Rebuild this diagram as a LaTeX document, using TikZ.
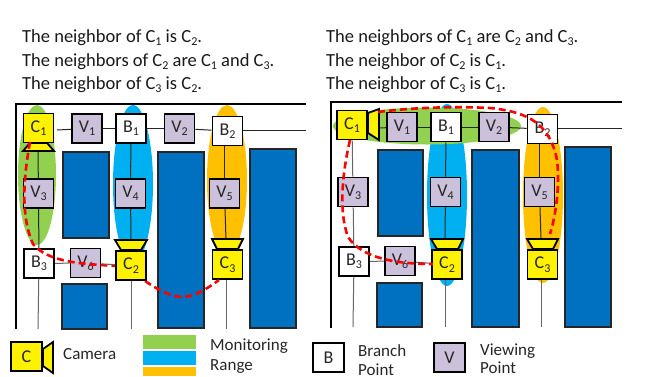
\documentclass[tikz,border=0pt]{standalone}
\usepackage{fontspec}
\setmainfont{Carlito}
\definecolor{rgreen}{HTML}{92D050}
\definecolor{rblue}{HTML}{00B0F0}
\definecolor{rorange}{HTML}{FFC000}
\definecolor{rdark}{HTML}{0070C0}
\definecolor{rview}{HTML}{CCC1DA}
\newcommand{\lowd}[1]{\raisebox{-0.4ex}{\fontsize{12}{12}\selectfont #1}}
\tikzset{
  boxbase/.style={draw=black,line width=1.9pt,minimum width=30pt,minimum height=29pt,inner sep=0pt,font=\fontsize{18}{18}\selectfont,text=black!85},
  cam/.style={boxbase,fill=yellow},
  view/.style={boxbase,fill=rview},
  branch/.style={boxbase,fill=white},
  block/.style={draw=black!85,line width=1.8pt,fill=rdark},
  road/.style={line width=1pt,draw=black!85},
  side/.style={line width=1pt,draw=black!60},
  frame/.style={line width=1.8pt,draw=black},
  lens/.style={draw=black,line width=1.8pt,fill=yellow},
  route/.style={draw=red,line width=2.6pt,dash pattern=on 7pt off 4pt},
  say/.style={anchor=base west,inner sep=0pt,font=\fontsize{18.5}{20}\selectfont,text=black!90},
  legend/.style={anchor=base west,inner sep=0pt,font=\fontsize{17}{20}\selectfont,text=black!85}
}
\begin{document}
\begin{tikzpicture}[x=1pt,y=-1pt]
\useasboundingbox (0,0) rectangle (646,376);
% ---- statements
\node[say] (t1) at (22,42) {The neighbor of C\lowd1 is C\lowd2.};
\node[say] (t2) at (22,66) {The neighbors of C\lowd2 are C\lowd1 and C\lowd3.};
\node[say] (t3) at (22,89) {The neighbor of C\lowd3 is C\lowd2.};
\node[say] (u1) at (326,42) {The neighbors of C\lowd1 are C\lowd2 and C\lowd3.};
\node[say] (u2) at (326,66) {The neighbor of C\lowd2 is C\lowd1.};
\node[say] (u3) at (326,89) {The neighbor of C\lowd3 is C\lowd1.};
% ---- left panel: ranges
\fill[rgreen] (37,175) ellipse [x radius=19,y radius=70];
\fill[rblue] (133,184) ellipse [x radius=20,y radius=79];
\fill[rorange] (227,180) ellipse [x radius=20,y radius=75];
% frame and blocks
\draw[frame] (16,329) -- (16,104) -- (306,104);
\draw[block] (63,152) rectangle (109,238);
\draw[block] (158,152) rectangle (204,328);
\draw[block] (250,149) rectangle (296,328);
\draw[block] (62,284) rectangle (107,329);
% nodes
\node[cam] (C1) at (38.5,128) {C\lowd1};
\node[view] (V1) at (87,128.5) {V\lowd1};
\node[branch] (B1) at (131,128.5) {B\lowd1};
\node[view] (V2) at (179.5,128.5) {V\lowd2};
\node[branch] (B2) at (227.5,131) {B\lowd2};
\node[view] (V3) at (38.5,193.5) {V\lowd3};
\node[view] (V4) at (130.5,193.5) {V\lowd4};
\node[view] (V5) at (224.5,193.5) {V\lowd5};
\node[branch] (B3) at (39,263.5) {B\lowd3};
\node[view] (V6) at (85.5,263) {V\lowd6};
\node[cam] (C3) at (227.5,264.5) {C\lowd3};
\coordinate (e1) at (57,130);
\coordinate (e2) at (306,130);
\coordinate (f1) at (38,329);
\coordinate (f2) at (131,329);
\coordinate (f3) at (226,329);
\coordinate (l1) at (38,151);
\draw[road] (e1) -- (V1);
\draw[road] (V1) -- (B1);
\draw[road] (B1) -- (V2);
\draw[road] (V2) -- (B2);
\draw[road] (B2.east |- e2) -- (e2);
\draw[road] (l1) -- (V3);
\draw[road] (V3) -- (B3);
\draw[side] (B3) -- (f1);
\draw[road] (B1) -- (V4);
\draw[road] (V5 |- B2.south) -- (V5);
\draw[side] (B3) -- (V6);
\draw[side] (f3 |- C3.south) -- (f3);
\draw[road] (V4) -- (131,240);
\draw[road] (V5) -- (226,240);
\draw[lens] (23,151) -- (30,143) -- (47,143) -- (54,151) -- cycle;
\draw[lens] (115,240) -- (147,240) -- (141,250) -- (121,250) -- cycle;
\draw[lens] (212,239) -- (243,239) -- (238,249) -- (217,249) -- cycle;
% route under C2
\draw[route] (30,142) .. controls (24,175) and (20,215) .. (33,244)
  .. controls (48,262) and (80,264) .. (118,266);
\draw[route] (145,281) .. controls (160,291) and (172,297) .. (184,297)
  .. controls (196,296) and (208,288) .. (219,280);
\node[cam] (C2) at (131,265.5) {C\lowd2};
\draw[side] (V6) -- (C2);
\draw[side] (C2) -- (f2);
% ---- right panel: ranges
\fill[rblue] (447,195) ellipse [x radius=20,y radius=91];
\fill[rorange] (543,195) ellipse [x radius=20,y radius=88];
\fill[rgreen] (427,126) ellipse [x radius=94,y radius=18.5];
\draw[frame] (331,328) -- (331,102) -- (622,102);
\draw[block] (378,150) rectangle (423,236);
\draw[block] (472,150) rectangle (519,327);
\draw[block] (565,147) rectangle (611,327);
\draw[block] (377,283) rectangle (422,327);
\node[cam] (D1) at (352,125) {C\lowd1};
\node[view] (W1) at (402,127) {V\lowd1};
\node[branch] (A1) at (446,127) {B\lowd1};
\node[view] (W2) at (494,127) {V\lowd2};
\node[branch] (A2) at (542.5,129) {B\lowd2};
\node[view] (W3) at (353,192) {V\lowd3};
\node[view] (W4) at (445.5,192) {V\lowd4};
\node[view] (W5) at (539.5,192) {V\lowd5};
\node[branch] (A3) at (354,261.5) {B\lowd3};
\node[view] (W6) at (400,261) {V\lowd6};
\node[cam] (D2) at (447,264.5) {C\lowd2};
\node[cam] (D3) at (542.5,264.5) {C\lowd3};
\coordinate (g1) at (379,128);
\coordinate (g2) at (622,128);
\coordinate (h1) at (353,327);
\coordinate (h2) at (445,327);
\coordinate (h3) at (541,327);
\draw[road] (g1) -- (W1);
\draw[road] (W1) -- (A1);
\draw[road] (A1) -- (W2);
\draw[road] (W2) -- (A2);
\draw[road] (A2.east |- g2) -- (g2);
\draw[side] (D1) -- (W3);
\draw[side] (W3) -- (A3);
\draw[side] (A3) -- (h1);
\draw[road] (A1) -- (W4);
\draw[road] (W5 |- A2.south) -- (W5);
\draw[side] (A3) -- (W6);
\draw[side] (W6) -- (D2);
\draw[side] (h2 |- D2.south) -- (h2);
\draw[side] (h3 |- D3.south) -- (h3);
\draw[road] (W4) -- (445,239);
\draw[road] (W5) -- (541,239);
\draw[lens] (368,113) -- (379,109) -- (379,140) -- (368,133) -- cycle;
\draw[lens] (431,239) -- (463,239) -- (458,249) -- (437,249) -- cycle;
\draw[lens] (527,239) -- (558,239) -- (553,249) -- (533,249) -- cycle;
\draw[route] (350,140) .. controls (343,170) and (338,210) .. (348,237)
  .. controls (362,258) and (395,264) .. (433,264);
\draw[route] (378,112) .. controls (410,108) and (450,106) .. (490,108)
  .. controls (530,112) and (550,125) .. (557,160)
  .. controls (560,185) and (556,215) .. (550,234);
% ---- legend
\node[cam,minimum width=31pt] (LC) at (26.5,356.5) {C};
\draw[lens] (43,349) -- (53,342) -- (53,373) -- (43,366) -- cycle;
\node[legend] (LCt) at (63,359) {Camera};
\fill[rgreen] (143,335) rectangle (196,349);
\fill[rblue] (143,351) rectangle (196,365);
\fill[rorange] (143,367) rectangle (196,376);
\node[legend] (LMa) at (210,350.5) {Monitoring};
\node[legend] (LMb) at (210,370) {Range};
\node[branch,minimum width=31pt] (LB) at (328.5,357.5) {B};
\node[legend] (LBa) at (358,356.5) {Branch};
\node[legend] (LBb) at (358,375.5) {Point};
\node[view,minimum width=31pt] (LV) at (449.5,357.5) {V};
\node[legend] (LVa) at (480,355) {Viewing};
\node[legend] (LVb) at (480,373.5) {Point};
\end{tikzpicture}
\end{document}
